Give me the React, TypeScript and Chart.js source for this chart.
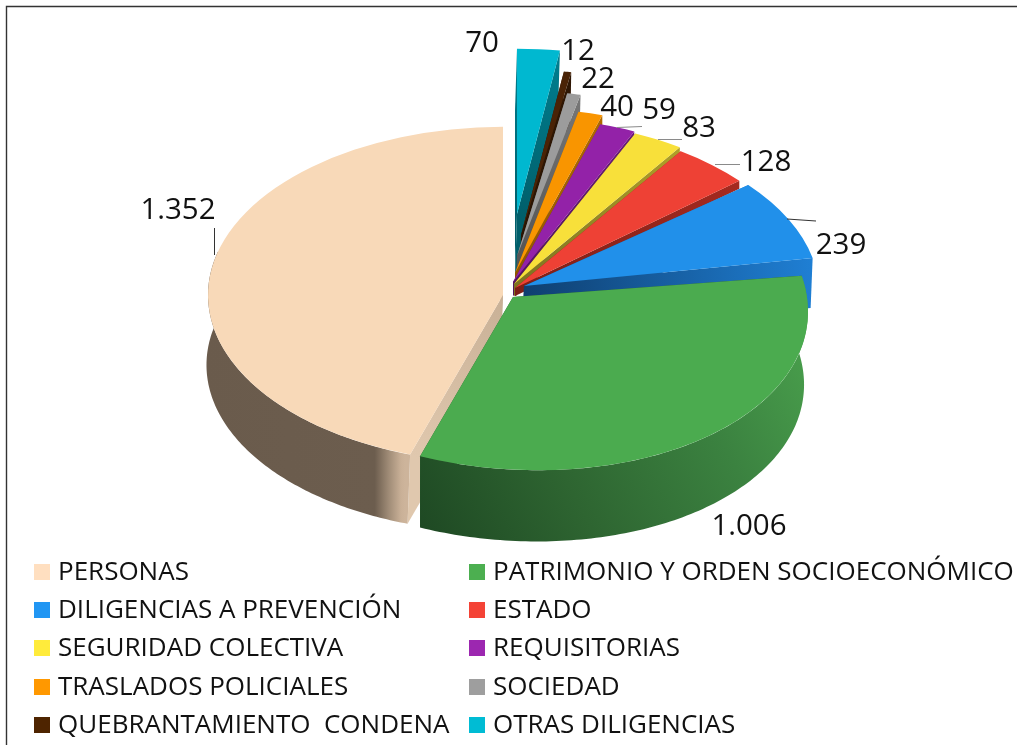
import React, { useEffect, useRef } from "react";
import { Chart, registerables } from "chart.js";

Chart.register(...registerables);

const categories = [
  "PERSONAS",
  "PATRIMONIO Y ORDEN SOCIOECONÓMICO",
  "DILIGENCIAS A PREVENCIÓN",
  "ESTADO",
  "SEGURIDAD COLECTIVA",
  "REQUISITORIAS",
  "TRASLADOS POLICIALES",
  "SOCIEDAD",
  "QUEBRANTAMIENTO  CONDENA",
  "OTRAS DILIGENCIAS",
];
const values = [1352, 1006, 239, 128, 83, 59, 40, 22, 12, 70];
const valueLabels = ["1.352", "1.006", "239", "128", "83", "59", "40", "22", "12", "70"];

const legendColors = ["#FFDFC0", "#4CAF50", "#2196F3", "#F44336", "#FFEB3B", "#9C27B0", "#FF9800", "#9E9E9E", "#4E2400", "#00BCD4"];
const topColors = ["#F8D9B8", "#4BAB4F", "#2190EA", "#EE4135", "#F8E03A", "#9322A8", "#F99500", "#9C9C9C", "#4A2306", "#00B8D0"];
const faceNear = ["#C8B096", "#2A5F2C", "#0F3F70", "#7E1E16", "#7D7320", "#54155F", "#8F5600", "#555555", "#2A1403", "#005F6B"];
const faceFar = ["#E0C8AE", "#2A5F2C", "#1F7FD4", "#A52A20", "#B0A028", "#6A1A78", "#B06A00", "#777777", "#2F1704", "#007F90"];

// Exploded displacement of each slice from the pie centre, its tilt, shear and thickness.
const explode = [[-9, -1], [1, 1], [12, -10], [3, -8], [2, -12], [1, -14], [3, -23], [5, -40], [9, -61], [5, -82]];
const tilt = [0.57, 0.585, 0.549, 0.56, 0.56, 0.56, 0.56, 0.56, 0.56, 0.56];
const shear = [0, 0.05, 0.019, 0, 0, 0, 0, 0, 0, 0];
const depth = [70, 73, 50, 8, 12, 14, 23, 40, 55, 62];
const depthDx = [-3, -1, -2, 0, 0, 0, 0, -1, -1, -2];
const rimShrink = [0.995, 0.99, 1, 1, 1, 1, 1, 1, 1, 1];

const rimStops: Record<number, [number, string][]> = {
  0: [[0, "#6A5B4C"], [0.85, "#6C5D4E"], [0.92, "#A08C77"], [0.98, "#C9B097"], [1, "#CDB49B"]],
  1: [[0, "#1E4823"], [0.35, "#2E6531"], [0.7, "#3B8240"], [1, "#4AA14D"]],
};
const rimAxis: Record<number, number[]> = {
  0: [203, 0, 405, 0],
  1: [416, 530, 808, 320],
};

const labelAt = [[178, 211], [749, 527], [841, 246], [766, 163], [699, 129], [659, 111], [617, 108], [598, 80], [578, 52], [482, 44]];
const leaders: number[][] = [
  [214.5, 228, 214.5, 255, 0],
  [787, 219, 816, 221, 0],
  [715, 164.5, 740, 164.5, 1],
  [658, 139.5, 682, 139.5, 1],
  [617, 127.5, 642, 126.5, 1],
];
const legendColX = [34, 469];
const legendRowY = [572, 610, 648, 687, 725];

const FONT = '"Open Sans"';
const FRONT_FROM = (-15 * Math.PI) / 180;
const FRONT_TO = (195 * Math.PI) / 180;

function drawSlice(ctx: CanvasRenderingContext2D, arc: any, i: number, area: any) {
  const R = arc.outerRadius;
  const cx = arc.x + explode[i][0];
  const cy = arc.y + explode[i][1];
  const k = tilt[i];
  const s = shear[i];
  const d = depth[i];
  const dx = depthDx[i];
  const shrink = rimShrink[i];
  const top = (a: number) => [cx + R * Math.cos(a), cy + s * R * Math.cos(a) + k * R * Math.sin(a)];
  const low = (a: number) => [
    cx + dx + shrink * R * Math.cos(a),
    cy + d + s * shrink * R * Math.cos(a) + shrink * k * R * Math.sin(a),
  ];

  const face = (a: number) => {
    const t = top(a);
    const l = low(a);
    const g = ctx.createLinearGradient(cx, cy, t[0], t[1]);
    g.addColorStop(0, faceNear[i]);
    g.addColorStop(1, faceFar[i]);
    ctx.fillStyle = g;
    ctx.beginPath();
    ctx.moveTo(cx, cy);
    ctx.lineTo(t[0], t[1]);
    ctx.lineTo(l[0], l[1]);
    ctx.lineTo(cx + dx, cy + d);
    ctx.closePath();
    ctx.fill();
  };
  face(arc.startAngle);
  face(arc.endAngle);

  const from = Math.max(arc.startAngle, FRONT_FROM);
  const to = Math.min(arc.endAngle, FRONT_TO);
  if (to > from && rimStops[i]) {
    const [x0, y0, x1, y1] = rimAxis[i];
    const g = ctx.createLinearGradient(x0, y0, x1, y1);
    rimStops[i].forEach(([p, c]) => g.addColorStop(p, c));
    ctx.fillStyle = g;
    ctx.beginPath();
    const steps = 120;
    for (let n = 0; n <= steps; n++) {
      const p = top(from + ((to - from) * n) / steps);
      if (n === 0) ctx.moveTo(p[0], p[1]);
      else ctx.lineTo(p[0], p[1]);
    }
    for (let n = steps; n >= 0; n--) {
      const p = low(from + ((to - from) * n) / steps);
      ctx.lineTo(p[0], p[1]);
    }
    ctx.closePath();
    ctx.fill();
  }

  ctx.save();
  ctx.transform(1, s, 0, k, cx, cy);
  ctx.translate(-arc.x, -arc.y);
  arc.draw(ctx, area);
  ctx.restore();
}

const pie3d = {
  id: "pie3d",
  beforeDraw(chart: any) {
    const { ctx, width, height } = chart;
    ctx.save();
    ctx.fillStyle = "#FFFFFF";
    ctx.fillRect(0, 0, width, height);
    ctx.strokeStyle = "#333333";
    ctx.lineWidth = 1.4;
    ctx.beginPath();
    ctx.moveTo(6.5, height);
    ctx.lineTo(6.5, 6.5);
    ctx.lineTo(width, 6.5);
    ctx.stroke();
    ctx.restore();
  },
  beforeDatasetDraw(chart: any, args: any) {
    const { ctx, chartArea } = chart;
    const arcs = chart.getDatasetMeta(args.index).data;
    const n = categories.length;
    // data run clockwise from the last category to the first; personas goes under patrimonio
    const order = [9, 8, 7, 6, 5, 4, 3, 2, 0, 1];
    order.forEach((cat) => {
      drawSlice(ctx, arcs[n - 1 - cat], cat, chartArea);
    });
    return false;
  },
  afterDatasetsDraw(chart: any) {
    const { ctx } = chart;
    ctx.save();
    leaders.forEach(([x1, y1, x2, y2, soft]) => {
      ctx.strokeStyle = soft ? "#8A8A8A" : "#333333";
      ctx.lineWidth = 1;
      ctx.beginPath();
      ctx.moveTo(x1, y1);
      ctx.lineTo(x2, y2);
      ctx.stroke();
    });
    ctx.fillStyle = "#111111";
    ctx.textBaseline = "middle";
    ctx.textAlign = "center";
    ctx.font = `29.5px ${FONT}`;
    valueLabels.forEach((t, i) => ctx.fillText(t, labelAt[i][0], labelAt[i][1]));

    ctx.textAlign = "left";
    ctx.font = `26px ${FONT}`;
    categories.forEach((name, i) => {
      const col = i % 2;
      const y = legendRowY[Math.floor(i / 2)];
      ctx.fillStyle = legendColors[i];
      ctx.fillRect(legendColX[col], y - 8, 16, 16);
      ctx.fillStyle = "#111111";
      ctx.fillText(name, legendColX[col] + 24, y + 1);
    });
    ctx.restore();
  },
};

export default function App() {
  const ref = useRef<HTMLCanvasElement>(null);
  useEffect(() => {
    const chart = new Chart(ref.current as HTMLCanvasElement, {
      type: "pie",
      data: {
        labels: [...categories].reverse(),
        datasets: [
          {
            data: [...values].reverse(),
            backgroundColor: [...topColors].reverse(),
            borderWidth: 0,
          },
        ],
      },
      options: {
        responsive: false,
        animation: false,
        radius: 295,
        layout: { padding: { left: 7, bottom: 153 } },
        plugins: { legend: { display: false }, tooltip: { enabled: false } },
      } as any,
      plugins: [pie3d as any],
    });
    return () => chart.destroy();
  }, []);
  return (
    <div style={{ position: "absolute", left: 0, top: 0, width: 1017, height: 745, overflow: "hidden" }}>
      <canvas ref={ref} width={1017} height={745} style={{ display: "block" }} />
    </div>
  );
}
